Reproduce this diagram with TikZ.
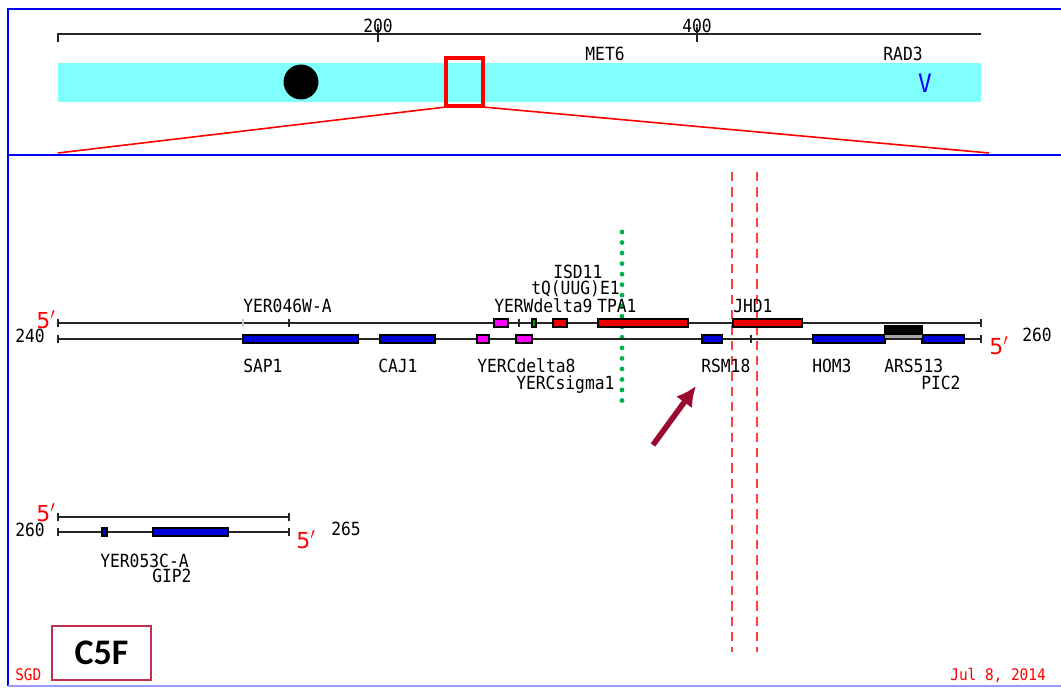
\documentclass[tikz,border=0pt]{standalone}
\usepackage{fontspec}
\setmonofont{DejaVu Sans Mono}[FakeStretch=0.9]
\setsansfont{DejaVu Sans}
\newfontfamily\tagfont{Carlito}
\usetikzlibrary{arrows.meta,positioning,calc}

\definecolor{frameblue}{HTML}{0000FF}
\definecolor{bandcyan}{HTML}{80FFFF}
\definecolor{featred}{HTML}{EE0000}
\definecolor{featblue}{HTML}{0000DD}
\definecolor{featmag}{HTML}{FF00FF}
\definecolor{featgreen}{HTML}{00A000}
\definecolor{dotgreen}{HTML}{00B050}
\definecolor{dashred}{HTML}{FF4040}
\definecolor{arrowred}{HTML}{9A0A30}
\definecolor{boxred}{HTML}{C03050}

\tikzset{
  lbl/.style={font=\ttfamily\fontsize{13.6}{13.6}\selectfont, inner sep=0pt, anchor=base west,
              text height=9.6pt, text depth=0pt},
  numlbl/.style={lbl, anchor=base east},
  prime/.style={font=\sffamily\fontsize{16.5}{16.5}\selectfont, text=red, inner sep=0pt, anchor=base west,
                text height=11pt, text depth=0pt},
  strand/.style={line width=1.1pt, black!85},
  feat/.style={draw=black, line width=0.8pt},
}

\begin{document}
\begin{tikzpicture}[x=0.75pt, y=-0.75pt]
  \useasboundingbox (0,0) rectangle (1061,688);
  % frame
  \draw[frameblue, line width=1.5pt] (8,686) -- (8,9) -- (1061,9);
  \draw[frameblue!40, line width=1.5pt] (8,686) -- (1061,686);
  \draw[frameblue, line width=2.2pt] (8,155) -- (1061,155);

  % overview ruler
  \draw[strand] (58,42) -- (58,34) -- (981,34);
  \foreach \x/\n in {378/200, 697/400} {
    \draw[strand] (\x,27) -- (\x,42);
    \node[lbl, anchor=base] (tick\n) at (\x,33) {\n};
  }

  % chromosome band
  \fill[bandcyan] (58,63) rectangle (981,102);
  \fill[black] (301,82) circle (13.1pt);
  \node[lbl, anchor=base] (met6) at (605,61) {MET6};
  \node[lbl, anchor=base] (rad3) at (903,61) {RAD3};
  \node[inner sep=0pt, text=frameblue, font=\ttfamily\fontsize{19}{19}\selectfont] (cen) at (925,83) {V};

  % zoom window
  \draw[red, line width=2.3pt] (446,58) rectangle (483,106);
  \coordinate (zl) at (446,107);
  \coordinate (zr) at (483,107);
  \draw[red, line width=1.2pt] (58,153) -- (zl);
  \draw[red, line width=1.2pt] (zr) -- (989,153);

  % marker lines
  \draw[dotgreen, line width=3.6pt, line cap=round, dash pattern=on 0pt off 7.9pt] (622,232) -- (622,410);
  \foreach \x in {732,757} {
    \draw[dashred, line width=1.5pt, dash pattern=on 7pt off 4.5pt] (\x,172) -- (\x,652);
  }

  % main strands 240-260
  \foreach \y in {323,339} {
    \draw[strand] (58,\y) -- (981,\y);
    \draw[strand] (58,\y-4) -- (58,\y+4);
    \draw[strand] (981,\y-4) -- (981,\y+4);
  }
  \draw[black!20, line width=0.8pt] (243,319) -- (243,327);
  \foreach \x in {289,519} {
    \draw[strand] (\x,319) -- (\x,327);
  }
  \draw[strand] (751,335) -- (751,343);
  \node[prime] (w5a) at (36,328) {5$'$};
  \node[numlbl] (pos240) at (45,342) {240};
  \node[prime] (c5a) at (989,354) {5$'$};
  \node[lbl] (pos260a) at (1022,341) {260};

  % watson features
  \foreach \xa/\xb/\c in {494/508/featmag, 532/536/featgreen, 553/567/featred,
                          598/688/featred, 733/802/featred} {
    \filldraw[feat, fill=\c] (\xa,319) rectangle (\xb,327);
  }
  % crick features
  \foreach \xa/\xb/\c in {243/358/featblue, 380/435/featblue, 477/489/featmag,
                          516/532/featmag, 702/722/featblue, 813/885/featblue,
                          922/964/featblue} {
    \filldraw[feat, fill=\c] (\xa,335) rectangle (\xb,343);
  }
  \fill[black!35] (885,334) rectangle (922,338);
  \filldraw[feat, fill=black] (885,326) rectangle (922,334);

  % gene names
  \node[lbl] (yer046) at (243,312) {YER046W-A};
  \node[lbl] (yerw9) at (494,312) {YERWdelta9};
  \node[lbl] (tpa1) at (597,312) {TPA1};
  \node[lbl] (jhd1) at (733,312) {JHD1};
  \node[lbl] (tq) at (531,295) {tQ(UUG)E1};
  \node[lbl] (isd11) at (553,279) {ISD11};
  \node[lbl] (sap1) at (243,372) {SAP1};
  \node[lbl] (caj1) at (378,372) {CAJ1};
  \node[lbl] (yerc8) at (477,372) {YERCdelta8};
  \node[lbl] (rsm18) at (701,372) {RSM18};
  \node[lbl] (hom3) at (812,372) {HOM3};
  \node[lbl] (ars513) at (884,372) {ARS513};
  \node[lbl] (yercs1) at (516,389) {YERCsigma1};
  \node[lbl] (pic2) at (921,389) {PIC2};

  % pointer
  \coordinate (ptail) at (653,445);
  \coordinate (phead) at (696,386);
  \draw[arrowred, line width=4.2pt, -{Latex[length=15pt, width=15pt]}] (ptail) -- (phead);

  % second strands 260-265
  \foreach \y in {517,532} {
    \draw[strand] (58,\y) -- (289,\y);
    \draw[strand] (58,\y-4) -- (58,\y+4);
    \draw[strand] (289,\y-4) -- (289,\y+4);
  }
  \filldraw[feat, fill=featblue] (102,528) rectangle (107,536);
  \filldraw[feat, fill=featblue] (153,528) rectangle (228,536);
  \node[prime] (w5b) at (36,521) {5$'$};
  \node[numlbl] (pos260b) at (45,536) {260};
  \node[prime] (c5b) at (296,548) {5$'$};
  \node[lbl] (pos265) at (331,535) {265};
  \node[lbl] (yer053) at (100,567) {YER053C-A};
  \node[lbl] (gip2) at (152,582) {GIP2};

  % footer
  \node[draw=boxred, line width=1pt, minimum width=74.25pt, minimum height=40.5pt, inner sep=0pt,
        font=\tagfont\bfseries\fontsize{27}{27}\selectfont] (tag) at (101.5,653) {C5F};
  \node[lbl, text=red, font=\ttfamily\fontsize{12}{12}\selectfont] (sgd) at (15,680) {SGD};
  \node[lbl, text=red, anchor=base east, font=\ttfamily\fontsize{12}{12}\selectfont] (date) at (1046,680) {Jul 8, 2014};
\end{tikzpicture}
\end{document}
